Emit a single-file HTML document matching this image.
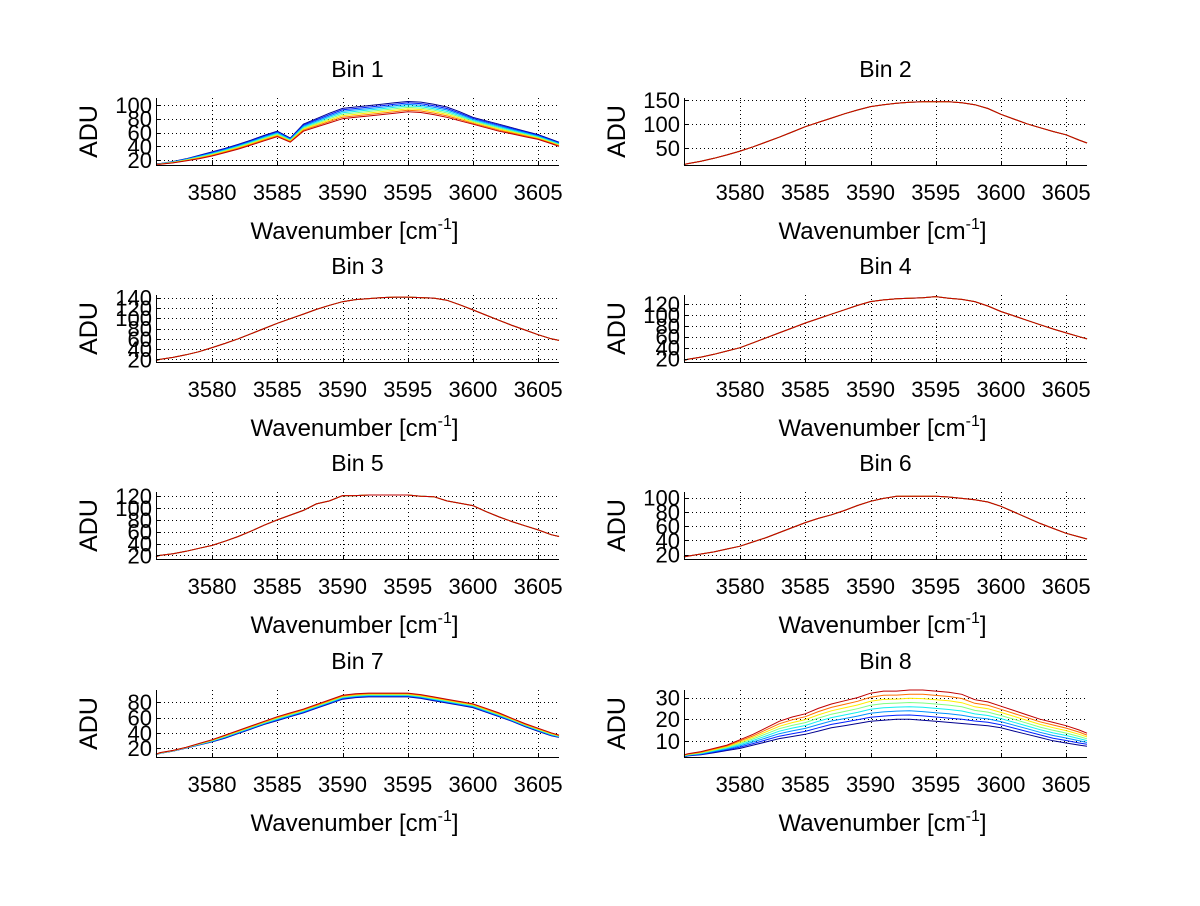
<!DOCTYPE html>
<html><head><meta charset="utf-8"><style>
html,body{margin:0;padding:0;background:#fff;}
svg text{font-family:"Liberation Sans",sans-serif;fill:#000;}
</style></head><body>
<svg id="fig" width="1200" height="901" viewBox="0 0 1200 901" xmlns="http://www.w3.org/2000/svg"></svg>
<script>
// ---- data ----
const wavenumbers = [3575.7,3576,3577,3578,3579,3580,3581,3582,3583,3584,3585,3586,3587,3588,3589,3590,3591,3592,3593,3594,3595,3596,3597,3598,3599,3600,3601,3602,3603,3604,3605,3606,3606.6];
const xTicks = [3580,3585,3590,3595,3600,3605];
const binTitles = ["Bin 1","Bin 2","Bin 3","Bin 4","Bin 5","Bin 6","Bin 7","Bin 8"];
const yRanges = [[13,110],[14,154],[15,145],[14,136],[14,127],[14,108],[8.3,96],[2.5,33.5]];
const yTicks1 = [20,40,60,80,100];
const yTicks2 = [50,100,150];
const yTicks3 = [20,40,60,80,100,120,140];
const yTicks4 = [20,40,60,80,100,120];
const yTicks5 = [20,40,60,80,100,120];
const yTicks6 = [20,40,60,80,100];
const yTicks7 = [20,40,60,80];
const yTicks8 = [10,20,30];
const seriesLevels = [0,1/7,2/7,3/7,4/7,5/7,6/7,1];
const seriesColors = ["#00008f","#0020ff","#0090ff","#10f0f0","#80ff80","#ffee00","#ff7000","#c00000"];
const bin1Blue = [15,15,18,22,27,32,37,43,49,56,62,52,72,80,88,95,97,99,101,103,105,104,101,97,90,82,77,72,67,62,57,50,46];
const bin1Red = [14,14,16,19,22,26,31,36,42,48,54,46,62,68,74,80,82,84,86,88,90,89,86,82,77,72,67,62,58,54,50,44,40];
const bin2Curve = [15,17,22,28,35,43,52,62,72,83,94,103,112,121,129,136,140,143,145,146,146,146,144,140,132,120,110,100,92,84,77,66,60];
const bin3Curve = [18,20,24,29,35,43,51,60,70,80,90,99,108,117,125,132,136,138,140,141,141,140,139,135,126,116,106,96,86,77,68,60,57];
const bin4Curve = [17,19,23,28,34,40,49,58,67,76,85,93,101,109,117,124,127,129,130,131,133,130,128,124,116,106,98,90,82,74,67,60,56];
const bin5Curve = [18,20,23,27,32,37,44,52,61,71,80,88,96,107,112,121,121,122,122,122,122,120,119,112,108,104,94,85,77,70,63,55,52];
const bin6Curve = [17,18,21,24,28,32,38,44,51,58,65,71,76,82,89,95,99,102,102,102,102,101,99,97,94,88,80,72,64,57,50,45,42];
const bin7Blue = [11,13,16,20,24,28,33,39,45,51,56,61,66,72,78,84,86,87,87,87,87,85,82,79,76,73,67,61,55,48,42,36,34];
const bin7Red = [12,14,17,21,26,31,37,43,49,55,61,66,71,77,83,89,91,92,92,92,92,90,87,84,81,78,72,66,59,52,46,40,37];
const bin8Blue = [2.5,3,3.5,4.5,5.5,6.5,8,9.5,11,12,13,14.5,16,17,18,19,19.5,20,20,19.5,19,18.5,18,17.5,17,16,14.5,13,11.5,10,9,8,7.5];
const bin8Red = [3.5,4,5,6.5,8,10.5,13,16,19,21,22.5,25,27,28.5,30,32,33,33,33.5,33.5,33,32.5,31.5,29,28,26,24,22,20,18.5,17,15,13.5];

const yTickSets = [yTicks1,yTicks2,yTicks3,yTicks4,yTicks5,yTicks6,yTicks7,yTicks8];
const lowSeries = [bin1Red,bin2Curve,bin3Curve,bin4Curve,bin5Curve,bin6Curve,bin7Blue,bin8Blue];
const highSeries = [bin1Blue,bin2Curve,bin3Curve,bin4Curve,bin5Curve,bin6Curve,bin7Red,bin8Red];
const topIsBlue = [true,false,false,false,false,false,false,false];

const NS="http://www.w3.org/2000/svg";
const fig=document.getElementById('fig');
const X_MIN=3575.7, X_MAX=3606.6;
const colLeft=[156,684], W=403, rowTop=[98,295,492,690], H=67;
function mk(tag,attrs,parent){const e=document.createElementNS(NS,tag);for(const k in attrs)e.setAttribute(k,attrs[k]);(parent||fig).appendChild(e);return e;}

for(let b=0;b<8;b++){
  const L=colLeft[b%2], T=rowTop[Math.floor(b/2)];
  const [y0,y1]=yRanges[b];
  const xs=v=>L+(v-X_MIN)/(X_MAX-X_MIN)*W;
  const ys=v=>T+H-(v-y0)/(y1-y0)*H;
  const g=mk('g',{});
  
  
  const grid=mk('g',{stroke:'#000','stroke-width':1,'stroke-dasharray':'1 3'},g);
  
  
  xTicks.forEach(t=>{const x=Math.round(xs(t))+0.5;mk('line',{x1:x,x2:x,y1:T,y2:T+H},grid);});
  yTickSets[b].forEach(t=>{const y=Math.round(ys(t))+0.5;mk('line',{x1:L,x2:L+W,y1:y,y2:y},grid);});
  const lines=mk('g',{fill:'none','stroke-width':1},g);
  
  
  seriesLevels.forEach((lv,si)=>{
    const f=topIsBlue[b]?1-lv:lv;
    let d='';
    wavenumbers.forEach((w,i)=>{const v=lowSeries[b][i]+(highSeries[b][i]-lowSeries[b][i])*f;d+=(i?'L':'M')+xs(w).toFixed(1)+','+ys(v).toFixed(1);});
    const p=mk('path',{d:d,stroke:seriesColors[si]},lines);
    
    
  });
  const ax=mk('g',{stroke:'#000','stroke-width':1},g);
  
  
  mk('line',{x1:L+0.5,x2:L+0.5,y1:T,y2:T+H+0.5},ax);
  mk('line',{x1:L,x2:L+W,y1:T+H+0.5,y2:T+H+0.5},ax);
  xTicks.forEach(t=>{const x=Math.round(xs(t))+0.5;mk('line',{x1:x,x2:x,y1:T+H,y2:T+H-4},ax);
    const tx=mk('text',{x:xs(t),y:T+H+35,'font-size':22,'text-anchor':'middle'},g);tx.textContent=t;
    
    });
  yTickSets[b].forEach(t=>{const y=Math.round(ys(t))+0.5;mk('line',{x1:L,x2:L+4,y1:y,y2:y},ax);
    const tx=mk('text',{x:L-4,y:ys(t)+8,'font-size':22,'text-anchor':'end'},g);tx.textContent=t;
    
    });
  const ti=mk('text',{x:L+W/2,y:T-21,'font-size':23,'text-anchor':'middle'},g);ti.textContent=binTitles[b];
  
  
  const xl=mk('text',{x:L+W/2-3,y:T+H+74,'font-size':24,'text-anchor':'middle'},g);
  xl.innerHTML='Wavenumber [cm<tspan dy="-10" font-size="16">-1</tspan><tspan dy="10">]</tspan>';
  
  
  const yl=mk('text',{x:0,y:0,'font-size':25,'text-anchor':'middle',transform:'translate('+(L-59)+','+(T+H/2)+') rotate(-90)'},g);yl.textContent='ADU';
  
  
}
</script>
</body></html>
